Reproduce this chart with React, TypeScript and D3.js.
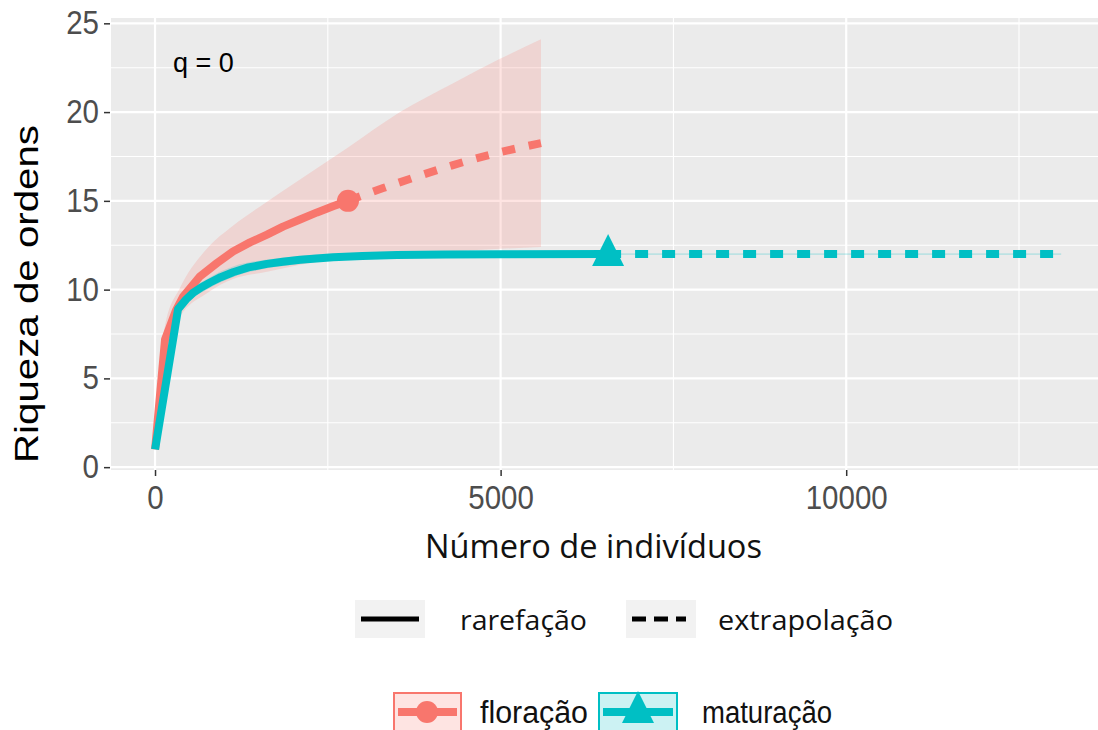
import React, { useRef, useEffect } from 'react';
import * as d3 from 'd3';

// floração (red) — rarefaction, extrapolation, confidence band
const florRarN = [1, 145, 300, 405, 651, 897, 1128, 1374, 1620, 1852, 2098, 2344, 2575, 2792];
const florRarS = [1, 7.2, 8.8, 9.6, 10.75, 11.5, 12.15, 12.66, 13.1, 13.55, 13.95, 14.35, 14.7, 15.0];
const florExtN = [2792, 3300, 3800, 4300, 4900, 5584];
const florExtS = [15.0, 15.72, 16.38, 17.0, 17.65, 18.25];
const florBandN = [1, 145, 362, 750, 1128, 1620, 2098, 2792, 3545, 4300, 4991, 5584];
const florLow = [1, 6.8, 8.5, 9.8, 10.6, 11.0, 11.4, 11.8, 12.0, 12.15, 12.3, 12.4];
const florUp = [1, 8.0, 10.1, 12.3, 13.6, 14.95, 16.2, 18.0, 20.0, 21.6, 23.0, 24.1];

// maturação (teal)
const matRarN = [1, 333, 450, 560, 680, 796, 950, 1128, 1350, 1620, 1850, 2098, 2575, 3000, 3500, 4200, 5000, 6555];
const matRarS = [1, 8.9, 9.45, 9.85, 10.15, 10.4, 10.7, 10.98, 11.25, 11.45, 11.57, 11.68, 11.82, 11.9, 11.95, 11.98, 11.99, 12.0];
const matExtN = [6555, 13110];
const matExtS = [12.0, 12.0];
const matBandN = [1, 333, 796, 1128, 1620, 2098, 2575, 5000, 6555, 13110];
const matLow = [1, 8.6, 10.1, 10.7, 11.2, 11.45, 11.65, 11.9, 11.95, 11.95];
const matUp = [1, 9.2, 10.7, 11.3, 11.7, 11.9, 12.0, 12.05, 12.05, 12.05];

const xTicks = [0, 5000, 10000];
const xMinor = [2500, 7500, 12500];
const yTicks = [0, 5, 10, 15, 20, 25];
const yMinor = [2.5, 7.5, 12.5, 17.5, 22.5];

const RED = '#F8766D';
const TEAL = '#00BFC4';

const zip = (xs, ys) => xs.map((x, i) => ({ x, y: ys[i] }));

const App = () => {
  const ref = useRef(null);

  useEffect(() => {
    const svg = d3.select(ref.current);
    svg.selectAll('*').remove();

    const left = 111, right = 1098, top = 18, bottom = 470;
    const x = d3.scaleLinear().domain([-637, 13643]).range([left, right]);
    const y = d3.scaleLinear().domain([-0.16, 25.3]).range([bottom, top]);

    svg.append('defs').append('clipPath').attr('id', 'panel')
      .append('rect').attr('x', left).attr('y', top)
      .attr('width', right - left).attr('height', bottom - top);

    // panel background + grid
    svg.append('rect')
      .attr('x', left).attr('y', top)
      .attr('width', right - left).attr('height', bottom - top)
      .attr('fill', '#EBEBEB');

    const grid = svg.append('g').attr('stroke', '#fff');
    yMinor.forEach(v => grid.append('line')
      .attr('x1', left).attr('x2', right).attr('y1', y(v)).attr('y2', y(v))
      .attr('stroke-width', 1.1));
    xMinor.forEach(v => grid.append('line')
      .attr('x1', x(v)).attr('x2', x(v)).attr('y1', top).attr('y2', bottom)
      .attr('stroke-width', 1.1));
    yTicks.forEach(v => grid.append('line')
      .attr('x1', left).attr('x2', right).attr('y1', y(v)).attr('y2', y(v))
      .attr('stroke-width', 2.2));
    xTicks.forEach(v => grid.append('line')
      .attr('x1', x(v)).attr('x2', x(v)).attr('y1', top).attr('y2', bottom)
      .attr('stroke-width', 2.2));

    const plot = svg.append('g').attr('clip-path', 'url(#panel)');

    const area = d3.area()
      .x(d => x(d.x)).y0(d => y(d.lo)).y1(d => y(d.hi))
      .curve(d3.curveMonotoneX);
    const line = d3.line()
      .x(d => x(d.x)).y(d => y(d.y));

    plot.append('path')
      .datum(florBandN.map((n, i) => ({ x: n, lo: florLow[i], hi: florUp[i] })))
      .attr('fill', RED).attr('fill-opacity', 0.2).attr('d', area);
    plot.append('path')
      .datum(matBandN.map((n, i) => ({ x: n, lo: matLow[i], hi: matUp[i] })))
      .attr('fill', TEAL).attr('fill-opacity', 0.2).attr('d', area);

    const series = [
      { rar: zip(florRarN, florRarS), ext: zip(florExtN, florExtS), color: RED },
      { rar: zip(matRarN, matRarS), ext: zip(matExtN, matExtS), color: TEAL },
    ];
    series.forEach(s => {
      plot.append('path').datum(s.ext)
        .attr('fill', 'none').attr('stroke', s.color).attr('stroke-width', 8)
        .attr('stroke-dasharray', '13,14').attr('d', line.curve(d3.curveMonotoneX));
      plot.append('path').datum(s.rar)
        .attr('fill', 'none').attr('stroke', s.color).attr('stroke-width', 8)
        .attr('stroke-linejoin', 'round').attr('d', line.curve(d3.curveLinear));
    });

    // observed points
    const fl = series[0].rar[series[0].rar.length - 1];
    plot.append('circle').attr('cx', x(fl.x)).attr('cy', y(fl.y)).attr('r', 11).attr('fill', RED);
    const mt = series[1].rar[series[1].rar.length - 1];
    const tri = (cx, cy) => `M${cx},${cy - 20}L${cx + 16},${cy + 12}L${cx - 16},${cy + 12}Z`;
    plot.append('path').attr('d', tri(x(mt.x), y(mt.y))).attr('fill', TEAL);

    // axes
    const styleTicks = g => {
      g.select('.domain').remove();
      g.selectAll('.tick line').attr('stroke', '#333').attr('stroke-width', 1.5);
      g.selectAll('.tick text')
        .attr('fill', '#4D4D4D')
        .style('font-family', '"Liberation Sans", Arial, sans-serif')
        .style('font-size', '33px')
        .attr('textLength', d => String(d).length * 16.4)
        .attr('lengthAdjust', 'spacingAndGlyphs');
    };
    svg.append('g').attr('transform', `translate(${left - 1},0)`)
      .call(d3.axisLeft(y).tickValues(yTicks).tickFormat(d3.format('d')).tickSize(6).tickPadding(5))
      .call(styleTicks);
    svg.append('g').attr('transform', `translate(0,${bottom})`)
      .call(d3.axisBottom(x).tickValues(xTicks).tickFormat(d3.format('d')).tickSize(6).tickPadding(10))
      .call(styleTicks);

    // texts
    svg.append('text').attr('x', 173).attr('y', 72)
      .style('font-family', '"Liberation Sans", Arial, sans-serif').style('font-size', '27px')
      .attr('fill', '#000').text('q = 0');

    svg.append('text')
      .attr('transform', 'translate(38,294) rotate(-90)')
      .attr('text-anchor', 'middle')
      .style('font-family', '"Liberation Sans", Arial, sans-serif').style('font-size', '33px')
      .attr('textLength', 338).attr('lengthAdjust', 'spacingAndGlyphs')
      .attr('fill', '#000').text('Riqueza de ordens');

    svg.append('text')
      .attr('x', 425).attr('y', 558)
      .style('font-family', '"Open Sans", sans-serif').style('font-size', '33px')
      .attr('textLength', 337).attr('lengthAdjust', 'spacingAndGlyphs')
      .attr('fill', '#111').text('Número de indivíduos');

    // legend: linetype
    const lt = svg.append('g');
    [{ x0: 355, dash: null }, { x0: 626, dash: '14,8' }].forEach(k => {
      lt.append('rect').attr('x', k.x0).attr('y', 600).attr('width', 70).attr('height', 38).attr('fill', '#F2F2F2');
      lt.append('line').attr('x1', k.x0 + 6).attr('x2', k.x0 + (k.dash ? 60 : 64))
        .attr('y1', 619).attr('y2', 619)
        .attr('stroke', '#000').attr('stroke-width', 5)
        .attr('stroke-dasharray', k.dash);
    });
    [{ x0: 460, w: 127, t: 'rarefação' }, { x0: 718, w: 175, t: 'extrapolação' }].forEach(k => {
      lt.append('text').attr('x', k.x0).attr('y', 630)
        .style('font-family', '"Open Sans", sans-serif').style('font-size', '28px')
        .attr('textLength', k.w).attr('lengthAdjust', 'spacingAndGlyphs')
        .attr('fill', '#111').text(k.t);
    });

    // legend: colour
    const lc = svg.append('g');
    lc.append('rect').attr('x', 394).attr('y', 693).attr('width', 67).attr('height', 40)
      .attr('fill', RED).attr('fill-opacity', 0.2).attr('stroke', RED).attr('stroke-width', 2);
    lc.append('line').attr('x1', 398).attr('x2', 457).attr('y1', 712).attr('y2', 712)
      .attr('stroke', RED).attr('stroke-width', 8);
    lc.append('circle').attr('cx', 427).attr('cy', 712).attr('r', 11).attr('fill', RED);

    lc.append('rect').attr('x', 599).attr('y', 693).attr('width', 78).attr('height', 40)
      .attr('fill', TEAL).attr('fill-opacity', 0.2).attr('stroke', TEAL).attr('stroke-width', 2);
    lc.append('line').attr('x1', 603).attr('x2', 673).attr('y1', 712).attr('y2', 712)
      .attr('stroke', TEAL).attr('stroke-width', 8);
    lc.append('path').attr('d', tri(638, 711)).attr('fill', TEAL);

    [{ x0: 480, w: 108, t: 'floração' }, { x0: 702, w: 130, t: 'maturação' }].forEach(k => {
      lc.append('text').attr('x', k.x0).attr('y', 723)
        .style('font-family', '"Liberation Sans", Arial, sans-serif').style('font-size', '31px')
        .attr('textLength', k.w).attr('lengthAdjust', 'spacingAndGlyphs')
        .attr('fill', '#111').text(k.t);
    });
  }, []);

  return (
    <svg ref={ref} width={1098} height={730}
      style={{ position: 'absolute', left: 0, top: 0, background: '#fff' }} />
  );
};

export default App;
